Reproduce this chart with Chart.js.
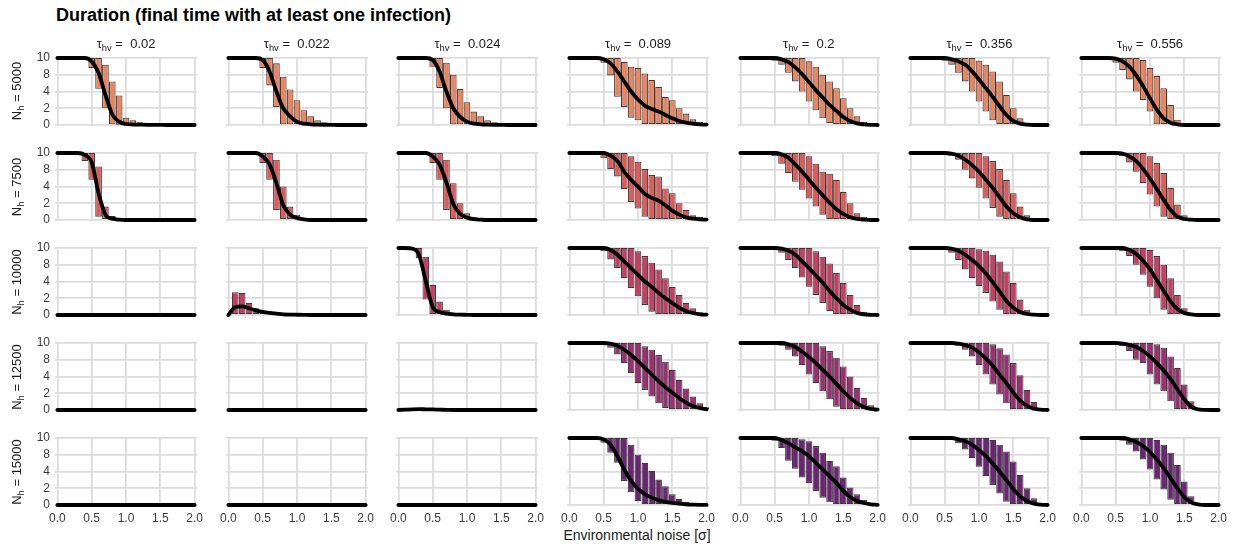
<!DOCTYPE html>
<html>
<head>
<meta charset="utf-8">
<script src="https://cdn.jsdelivr.net/npm/chart.js@4.4.0/dist/chart.umd.min.js"></script>
<style>
  body { margin: 0; background: #fff; width: 1238px; height: 548px; position: relative; overflow: hidden;
         font-family: "Liberation Sans", Arial, sans-serif; }
  canvas { position: absolute; }
  #title { position: absolute; left: 56px; top: 5px; font-size: 18px; line-height: 20px; font-weight: bold; color: #000; white-space: nowrap; }
  #xtitle { position: absolute; left: 637px; top: 526px; transform: translateX(-50%); font-size: 14px; line-height: 18px; color: #1a1a1a; white-space: nowrap; }
  .colhead { position: absolute; top: 36px; transform: translateX(-50%); font-size: 13px; line-height: 16px; color: #1a1a1a; white-space: nowrap; }
  .rowhead { position: absolute; left: 17px; transform: translate(-50%, -50%) rotate(-90deg); font-size: 13px; line-height: 16px; color: #1a1a1a; white-space: nowrap; }
  sub { font-size: 0.72em; line-height: 0; vertical-align: -0.3em; }
</style>
</head>
<body>
<div id="title">Duration (final time with at least one infection)</div>
<div id="xtitle">Environmental noise [σ]</div>
<script>
// === DATA ===
const _ = null;
const xs = [0, 0.1, 0.2, 0.3, 0.4, 0.5, 0.6, 0.7, 0.8, 0.9, 1.0, 1.1, 1.2, 1.3, 1.4, 1.5, 1.6, 1.7, 1.8, 1.9, 2.0];
const taus = ['0.02', '0.022', '0.024', '0.089', '0.2', '0.356', '0.556'];
const hosts = ['5000', '7500', '10000', '12500', '15000'];
const xTickVals = [0, 0.5, 1, 1.5, 2];
const yTickVals = [0, 2.5, 5, 7.5, 10];
const yTickLabels = ['0', '2', '4', '8', '10'];

const none = [_,_,_,_,_,_,_,_,_,_,_,_,_,_,_,_,_,_,_,_,_];
const flat = [0,0,0,0,0,0,0,0,0,0,0,0,0,0,0,0,0,0,0,0,0];

// N_h = 5000
const lower5000 = [
  [_,_,_,_,_,8.5,5.4,2.5,0.1,0.05,0,0,0,0,0,0,_,_,_,_,_],
  [_,_,_,_,_,8.5,5.9,2.7,0.1,0.1,0,0,0,0,0,0,0,_,_,_,_],
  [_,_,_,_,_,8.7,5.5,2.5,0.1,0.1,0,0,0,0,0,0,_,_,_,_,_],
  [_,_,_,_,_,9.3,7.4,4.2,2.7,1.1,0.7,0,0,0,0,0,0,0,0,0,0],
  [_,_,_,_,_,9.6,9.0,7.8,6.5,5.0,3.5,2.2,1.0,0.3,0,0,0,0,0,0,_],
  [_,_,_,_,_,9.6,9.0,7.8,6.5,5.0,3.5,2.0,0.7,0,0,0,0,0,_,_,_],
  [_,_,_,_,_,9.3,8.2,6.8,5.0,3.7,2.0,0.1,0,0,0,0,_,_,_,_,_]
];
const upper5000 = [
  [_,_,_,_,_,10,10,9.0,6.5,4.4,1.1,0.7,0.4,0.3,0.2,0.1,_,_,_,_,_],
  [_,_,_,_,_,10,10,9.2,7.2,5.3,3.7,2.2,1.3,0.7,0.4,0.2,0.1,_,_,_,_],
  [_,_,_,_,_,10,10,9.3,7.5,5.4,3.4,2.0,1.3,0.7,0.4,0.2,_,_,_,_,_],
  [_,_,_,_,_,10,10,10,9.4,8.7,8.5,7.7,6.7,5.7,4.2,3.7,2.5,1.7,0.85,0.5,0.2],
  [_,_,_,_,_,10,10,10,10,10,9.5,8.7,7.5,6.5,5.5,4.0,2.5,1.3,0.5,0.2,_],
  [_,_,_,_,_,10,10,10,10,10,9.6,9.0,8.0,6.5,4.5,2.5,1.0,0.3,_,_,_],
  [_,_,_,_,_,10,10,10,10,9.7,8.5,7.3,5.5,3.0,0.8,0.2,_,_,_,_,_]
];
const median5000 = [
  [10,10,10,10,10,9.5,7.8,4.5,1.6,0.5,0.15,0.07,0.05,0.03,0.02,0.01,0,0,0,0,0],
  [10,10,10,10,10,9.7,8.0,5.0,2.5,1.3,0.5,0.2,0.1,0.05,0.02,0.01,0,0,0,0,0],
  [10,10,10,10,10,9.7,8.0,5.0,2.5,1.2,0.5,0.2,0.1,0.05,0.02,0.01,0,0,0,0,0],
  [10,10,10,10,10,9.8,9.2,8.0,6.5,5.0,3.8,2.9,2.4,2.0,1.5,1.0,0.6,0.35,0.2,0.1,0.05],
  [10,10,10,10,10,10,9.8,9.4,8.6,7.6,6.4,5.2,4.1,3.0,2.1,1.2,0.6,0.25,0.1,0.03,0],
  [10,10,10,10,10,10,9.8,9.5,9.0,8.0,6.8,5.5,4.2,2.8,1.5,0.6,0.2,0.05,0,0,0],
  [10,10,10,10,10,9.9,9.5,8.7,7.4,5.8,4.0,2.3,1.0,0.35,0.1,0,0,0,0,0,0]
];

// N_h = 7500
const lower7500 = [
  [_,_,_,_,8.8,6.0,0.5,0,0,0,_,_,_,_,_,_,_,_,_,_,_],
  [_,_,_,_,_,8.5,6.0,1.5,0,0,0,0,0,_,_,_,_,_,_,_,_],
  [_,_,_,_,_,8.5,6.0,1.5,0,0,0,0,0,_,_,_,_,_,_,_,_],
  [_,_,_,_,_,9.2,7.6,6.5,4.6,2.7,1.7,0.5,0,0,0,0,0,0,0,0,_],
  [_,_,_,_,_,9.5,8.4,7.0,5.7,4.5,3.2,2.0,0.8,0,0,0,0,0,0,_,_],
  [_,_,_,_,_,_,9.6,9.0,7.5,6.2,4.8,3.2,1.8,0.5,0,0,0,0,0,_,_],
  [_,_,_,_,_,_,9.5,8.6,7.2,5.5,3.8,2.0,0.5,0,0,0,_,_,_,_,_]
];
const upper7500 = [
  [_,_,_,_,10,10,8.0,2.0,0.6,0.2,_,_,_,_,_,_,_,_,_,_,_],
  [_,_,_,_,_,10,10,9.0,5.0,2.0,0.8,0.3,0.1,_,_,_,_,_,_,_,_],
  [_,_,_,_,_,10,10,9.0,5.5,2.5,1.0,0.4,0.15,_,_,_,_,_,_,_,_],
  [_,_,_,_,_,10,10,10,10,9.5,8.7,7.6,6.7,6.5,4.7,4.0,2.5,1.5,0.7,0.5,_],
  [_,_,_,_,_,10,10,10,10,10,9.5,8.4,7.2,6.9,6.0,4.2,2.5,1.0,0.5,_,_],
  [_,_,_,_,_,_,10,10,10,10,10,9.5,8.8,7.6,6.0,4.0,2.0,0.7,0.2,_,_],
  [_,_,_,_,_,_,10,10,10,10,9.5,8.5,7.0,4.8,2.3,0.7,_,_,_,_,_]
];
const median7500 = [
  [10,10,10,10,9.7,8.6,4.0,0.8,0.2,0.05,0,0,0,0,0,0,0,0,0,0,0],
  [10,10,10,10,10,9.5,8.3,5.5,2.2,0.8,0.3,0.1,0,0,0,0,0,0,0,0,0],
  [10,10,10,10,10,9.5,8.3,5.6,2.4,0.9,0.35,0.12,0.05,0,0,0,0,0,0,0,0],
  [10,10,10,10,10,10,9.6,8.8,7.2,6.0,5.0,3.9,3.3,2.9,2.2,1.4,0.8,0.4,0.2,0.1,0.05],
  [10,10,10,10,10,10,9.8,9.3,8.3,7.2,6.0,4.8,3.7,2.6,1.6,0.9,0.4,0.15,0.05,0,0],
  [10,10,10,10,10,10,9.9,9.6,9.0,8.2,7.2,6.0,4.8,3.4,2.0,1.0,0.4,0.1,0,0,0],
  [10,10,10,10,10,10,9.9,9.5,8.8,7.6,6.2,4.6,3.0,1.5,0.5,0.15,0.05,0,0,0,0]
];

// N_h = 10000
const lower10000 = [
  none,
  [_,0,0,0,0,0,0,0,_,_,_,_,_,_,_,_,_,_,_,_,_],
  [_,_,_,8.5,2.3,0,0,0,_,_,_,_,_,_,_,_,_,_,_,_,_],
  [_,_,_,_,_,9.5,8.3,7.0,5.5,4.0,2.8,1.5,0.5,0,0,0,0,0,0,0,_],
  [_,_,_,_,_,9.7,9.3,8.2,7.0,5.6,4.2,3.0,1.8,0.6,0,0,0,0,0,_,_],
  [_,_,_,_,_,_,9.3,8.2,6.8,5.5,4.3,3.3,2.0,0.8,0,0,0,0,_,_,_],
  [_,_,_,_,_,_,9.5,8.8,7.5,6.0,4.2,2.5,0.8,0,0,0,0,_,_,_,_]
];
const upper10000 = [
  none,
  [_,3.4,3.3,1.8,1.0,0.6,0.3,0.15,_,_,_,_,_,_,_,_,_,_,_,_,_],
  [_,_,_,10,8.7,4.5,2.0,0.8,_,_,_,_,_,_,_,_,_,_,_,_,_],
  [_,_,_,_,_,10,10,10,10,10,9.5,8.8,7.8,6.8,5.5,4.2,3.0,1.8,1.0,0.4,_],
  [_,_,_,_,_,10,10,10,10,10,10,9.5,8.7,7.7,6.3,4.8,3.0,1.5,0.5,_,_],
  [_,_,_,_,_,_,10,10,10,10,9.8,9.6,9.0,8.0,6.5,4.8,2.3,0.8,_,_,_],
  [_,_,_,_,_,_,10,10,10,10,9.7,8.8,7.5,5.5,3.0,1.0,0.3,_,_,_,_]
];
const median10000 = [
  flat,
  [0,1.2,1.3,1.0,0.7,0.45,0.3,0.2,0.1,0.06,0.04,0.02,0,0,0,0,0,0,0,0,0],
  [10,10,9.9,9.0,5.0,1.2,0.45,0.2,0.1,0.05,0.03,0,0,0,0,0,0,0,0,0,0],
  [10,10,10,10,10,10,9.7,9.0,8.0,7.0,6.0,5.0,4.2,3.3,2.5,1.8,1.1,0.6,0.3,0.1,0.05],
  [10,10,10,10,10,10,9.9,9.6,9.0,8.0,7.0,5.9,4.8,3.6,2.5,1.5,0.8,0.3,0.1,0.03,0],
  [10,10,10,10,10,10,9.9,9.6,9.0,8.2,7.3,6.2,4.9,3.5,2.1,1.1,0.45,0.15,0.05,0,0],
  [10,10,10,10,10,10,10,9.7,9.1,8.1,6.8,5.2,3.6,2.0,0.9,0.3,0.1,0,0,0,0]
];

// N_h = 12500
const lower12500 = [
  none,
  none,
  none,
  [_,_,_,_,_,9.8,9.3,8.3,7.0,5.5,4.0,3.0,2.0,1.0,0.3,0,0,0,0,0,0],
  [_,_,_,_,_,_,9.6,9.0,8.0,6.7,5.3,4.0,2.8,1.6,0.5,0,0,0,0,0,0],
  [_,_,_,_,_,_,_,9.6,9.0,8.0,6.7,5.3,3.8,2.3,1.0,0,0,0,0,0,_],
  [_,_,_,_,_,_,9.5,8.8,7.5,7.0,5.3,3.8,2.8,1.3,0,0,0,_,_,_,_]
];
const upper12500 = [
  none,
  none,
  none,
  [_,_,_,_,_,10,10,10,10,10,10,9.5,9.0,8.2,7.2,6.0,4.5,3.2,2.0,1.0,0.4],
  [_,_,_,_,_,_,10,10,10,10,10,10,9.5,8.8,7.8,6.5,5.0,3.3,1.8,0.7,0.2],
  [_,_,_,_,_,_,_,10,10,10,10,10,9.8,9.2,8.3,7.0,5.2,3.0,1.2,0.3,_],
  [_,_,_,_,_,_,10,10,10,10,10,9.8,9.3,8.0,6.3,3.8,1.3,_,_,_,_]
];
const median12500 = [
  flat,
  flat,
  [0,0.05,0.1,0.12,0.1,0.08,0.05,0.03,0,0,0,0,0,0,0,0,0,0,0,0,0],
  [10,10,10,10,10,10,9.9,9.6,9.0,8.2,7.3,6.3,5.3,4.3,3.4,2.6,1.8,1.1,0.6,0.3,0.1],
  [10,10,10,10,10,10,10,9.8,9.4,8.7,7.9,7.0,6.0,5.0,3.9,2.8,1.8,1.0,0.45,0.15,0.05],
  [10,10,10,10,10,10,10,9.9,9.7,9.3,8.6,7.7,6.6,5.3,4.0,2.6,1.4,0.6,0.2,0.05,0],
  [10,10,10,10,10,10,9.9,9.7,9.4,8.8,8.0,7.0,5.9,4.6,3.1,1.6,0.5,0.1,0.02,0,0]
];

// N_h = 15000
const lower15000 = [
  none,
  none,
  none,
  [_,_,_,_,_,9.3,7.8,6.3,3.6,1.9,0.6,0,0,0,0,0,0,0,0,_,_],
  [_,_,_,_,_,9.6,8.5,6.6,5.4,4.1,3.3,2.1,1.1,0.4,0,0,0,0,0,0,_],
  [_,_,_,_,_,_,9.7,9.2,8.3,7.0,5.7,4.3,3.0,1.7,0.5,0,0,0,0,0,_],
  [_,_,_,_,_,_,9.6,9.0,8.0,6.8,5.3,3.8,2.3,0.8,0,0,0,0,_,_,_]
];
const upper15000 = [
  none,
  none,
  none,
  [_,_,_,_,_,10,10,10,10,9.0,7.5,6.3,5.1,3.8,2.8,1.6,0.9,0.5,0.3,_,_],
  [_,_,_,_,_,10,10,10,10,9.8,9.5,8.8,7.8,6.6,5.8,4.1,2.6,1.6,0.8,0.35,_],
  [_,_,_,_,_,_,10,10,10,10,10,10,9.7,9.0,8.0,6.5,4.5,2.5,1.0,0.3,_],
  [_,_,_,_,_,_,10,10,10,10,10,9.7,9.0,7.8,6.0,3.5,1.3,0.3,_,_,_]
];
const median15000 = [
  flat,
  flat,
  flat,
  [10,10,10,10,10,9.8,9.0,7.3,5.3,3.6,2.4,1.6,1.1,0.7,0.45,0.3,0.2,0.1,0.05,0.02,0.01],
  [10,10,10,10,10,10,9.7,9.2,8.6,8.0,7.3,6.3,5.3,4.3,3.3,2.1,1.2,0.6,0.3,0.1,0.03],
  [10,10,10,10,10,10,10,9.8,9.5,9.0,8.2,7.3,6.2,5.0,3.7,2.4,1.3,0.6,0.2,0.05,0],
  [10,10,10,10,10,10,10,9.8,9.4,8.8,7.9,6.8,5.5,4.0,2.5,1.2,0.4,0.1,0,0,0]
];

const lowerRows = [lower5000, lower7500, lower10000, lower12500, lower15000];
const upperRows = [upper5000, upper7500, upper10000, upper12500, upper15000];
const medianRows = [median5000, median7500, median10000, median12500, median15000];

// === LAYOUT / STYLE ===
const rowColors = ['#EA8560', '#DE5B5A', '#C63E64', '#9C2F72', '#6C2574'];
const X_MIN = -0.035, X_MAX = 2.035, Y_MIN = -0.15, Y_MAX = 10.15;
const PX_X = 68.8, PX_Y = 6.73;
const COL0 = 57.3, COL_STEP = 170.67;
const ROW0 = 57.7, ROW_STEP = 95.2;
const M = 14, AXIS_W = 32, AXIS_H = 22;
const tickFont = { family: '"Liberation Sans", Arial, sans-serif', size: 12 };
const tickColor = '#3a3a3a';
const gridColor = '#dcdcdc';

Chart.defaults.font.family = '"Liberation Sans", Arial, sans-serif';

const drawPanel = (r, c) => {
  const lo = lowerRows[r][c];
  const hi = upperRows[r][c];
  const med = medianRows[r][c];
  const bars = [];
  xs.forEach((x, i) => {
    if (lo[i] !== null && hi[i] !== null) bars.push({ x, y: [lo[i], hi[i]] });
  });
  const line = xs.map((x, i) => ({ x, y: med[i] }));

  const firstCol = c === 0;
  const lastRow = r === hosts.length - 1;
  const axisW = firstCol ? AXIS_W : 0;
  const axisH = lastRow ? AXIS_H : 0;
  const plotLeft = Math.round(COL0 + c * COL_STEP + X_MIN * PX_X);
  const plotTop = Math.round(ROW0 + r * ROW_STEP - (Y_MAX - 10) * PX_Y);
  const plotW = Math.round((X_MAX - X_MIN) * PX_X);
  const plotH = Math.round((Y_MAX - Y_MIN) * PX_Y);

  const cv = document.createElement('canvas');
  cv.width = plotW + axisW + 2 * M;
  cv.height = plotH + axisH + 2 * M;
  cv.style.left = (plotLeft - axisW - M) + 'px';
  cv.style.top = (plotTop - M) + 'px';
  cv.style.width = cv.width + 'px';
  cv.style.height = cv.height + 'px';
  document.body.appendChild(cv);

  new Chart(cv, {
    type: 'bar',
    data: {
      datasets: [
        {
          type: 'line',
          data: line,
          borderColor: '#000',
          borderWidth: 3.8,
          pointRadius: 0,
          cubicInterpolationMode: 'monotone',
          borderCapStyle: 'round',
          borderJoinStyle: 'round',
          clip: 4,
          order: 0
        },
        {
          data: bars,
          backgroundColor: rowColors[r],
          borderColor: '#3b3b3b',
          borderWidth: 1.1,
          borderSkipped: false,
          barPercentage: 0.97,
          categoryPercentage: 1,
          order: 1
        }
      ]
    },
    options: {
      responsive: false,
      animation: false,
      events: [],
      layout: { padding: M },
      plugins: { legend: { display: false }, tooltip: { enabled: false } },
      scales: {
        x: {
          type: 'linear',
          min: X_MIN,
          max: X_MAX,
          offset: false,
          afterBuildTicks: s => { s.ticks = xTickVals.map(v => ({ value: v })); },
          afterFit: s => { s.height = axisH; },
          ticks: {
            display: lastRow,
            autoSkip: false,
            maxRotation: 0,
            padding: 5,
            font: tickFont,
            color: tickColor,
            callback: v => Number(v).toFixed(1)
          },
          grid: { color: gridColor, lineWidth: 1.8, drawTicks: false, offset: false },
          border: { display: false }
        },
        y: {
          type: 'linear',
          min: Y_MIN,
          max: Y_MAX,
          afterBuildTicks: s => { s.ticks = yTickVals.map(v => ({ value: v })); },
          afterFit: s => { s.width = axisW; },
          ticks: {
            display: firstCol,
            autoSkip: false,
            padding: 5,
            font: tickFont,
            color: tickColor,
            callback: (v, i) => yTickLabels[i]
          },
          grid: { color: gridColor, lineWidth: 1.8, drawTicks: false },
          border: { display: false }
        }
      }
    }
  });
};

hosts.forEach((h, r) => taus.forEach((t, c) => drawPanel(r, c)));

// facet strip labels
taus.forEach((t, c) => {
  const d = document.createElement('div');
  d.className = 'colhead';
  d.style.left = (COL0 + c * COL_STEP + PX_X) + 'px';
  d.innerHTML = 'τ<sub>hv</sub> =&nbsp; ' + t;
  document.body.appendChild(d);
});
hosts.forEach((h, r) => {
  const d = document.createElement('div');
  d.className = 'rowhead';
  d.style.top = (ROW0 + r * ROW_STEP + 5 * PX_Y) + 'px';
  d.innerHTML = 'N<sub>h</sub> = ' + h;
  document.body.appendChild(d);
});
</script>
</body>
</html>
